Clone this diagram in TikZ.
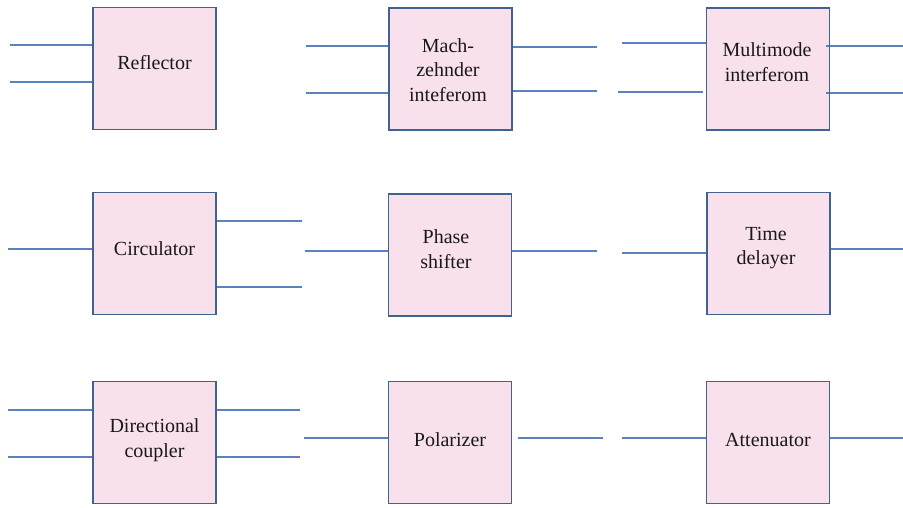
\documentclass[tikz,border=0pt]{standalone}
\usepackage{fontspec}
\setmainfont{Liberation Serif}
\definecolor{boxfill}{RGB}{248,225,236}
\definecolor{boxedge}{RGB}{65,98,143}
\definecolor{wirec}{RGB}{91,130,190}
\tikzset{
  blk/.style={draw=boxedge, fill=boxfill, line width=1.2pt, minimum width=123pt, minimum height=122pt, inner sep=0pt, outer sep=0pt},
  lbl/.style={font=\fontsize{20}{24.5}\selectfont, align=center, inner sep=0pt, text=black!90},
  wire/.style={draw=wirec, line width=1.3pt}
}
\begin{document}
\begin{tikzpicture}[x=1pt,y=-1pt]
\useasboundingbox (0,0) rectangle (903,508);
% boxes
\node[blk] (refl) at (154.5,68.5) {};
\node[blk] (mach) at (450.5,69) {};
\node[blk] (mmi)  at (768,69) {};
\node[blk] (circ) at (154.5,253.5) {};
\node[blk] (phase) at (450,255) {};
\node[blk] (time) at (768.5,253.5) {};
\node[blk] (dc) at (154.5,442.5) {};
\node[blk] (pol) at (450,442.5) {};
\node[blk] (att) at (768,442.5) {};
% labels
\node[lbl] (treflector) at (154.5,63) {Reflector};
\node[lbl] (tmach) at (448,70) {Mach-\\zehnder\\inteferom};
\node[lbl] (tmmi) at (767,62) {Multimode\\ interferom};
\node[lbl] (tcirc) at (154.5,248.5) {Circulator};
\node[lbl] (tphase) at (446,249) {Phase\\shifter};
\node[lbl] (ttime) at (766,248) {Time\\delayer};
\node[lbl] (tdc) at (154.5,440) {Directional\\coupler};
\node[lbl] (tpol) at (450,440) {Polarizer};
\node[lbl] (tatt) at (768,440) {Attenuator};
% free ends
\coordinate (a1) at (10,45);  \coordinate (a2) at (10,82);
\coordinate (b1) at (306,46); \coordinate (b2) at (306,93);
\coordinate (b3) at (597,47); \coordinate (b4) at (597,91);
\coordinate (c1) at (622,43); \coordinate (c2) at (618,92); \coordinate (c2e) at (703,92);
\coordinate (c3s) at (826,46); \coordinate (c3) at (903,46);
\coordinate (c4s) at (826,93); \coordinate (c4) at (903,93);
\coordinate (d1) at (8,249); \coordinate (d2) at (302,221); \coordinate (d3) at (302,287);
\coordinate (e1) at (305,251); \coordinate (e2) at (597,251);
\coordinate (f1) at (622,253); \coordinate (f2) at (903,249);
\coordinate (g1) at (8,410); \coordinate (g2) at (8,457);
\coordinate (g3) at (300,410); \coordinate (g4) at (300,457);
\coordinate (h1) at (304,438); \coordinate (h2s) at (518,438); \coordinate (h2) at (603,438);
\coordinate (k1) at (622,438); \coordinate (k2) at (903,438);
% wires
\draw[wire] (a1) -- (refl.west |- a1);
\draw[wire] (a2) -- (refl.west |- a2);
\draw[wire] (b1) -- (mach.west |- b1);
\draw[wire] (b2) -- (mach.west |- b2);
\draw[wire] (mach.east |- b3) -- (b3);
\draw[wire] (mach.east |- b4) -- (b4);
\draw[wire] (c1) -- (mmi.west |- c1);
\draw[wire] (c2) -- (c2e);
\draw[wire] (c3s) -- (c3);
\draw[wire] (c4s) -- (c4);
\draw[wire] (d1) -- (circ.west |- d1);
\draw[wire] (circ.east |- d2) -- (d2);
\draw[wire] (circ.east |- d3) -- (d3);
\draw[wire] (e1) -- (phase.west |- e1);
\draw[wire] (phase.east |- e2) -- (e2);
\draw[wire] (f1) -- (time.west |- f1);
\draw[wire] (time.east |- f2) -- (f2);
\draw[wire] (g1) -- (dc.west |- g1);
\draw[wire] (g2) -- (dc.west |- g2);
\draw[wire] (dc.east |- g3) -- (g3);
\draw[wire] (dc.east |- g4) -- (g4);
\draw[wire] (h1) -- (pol.west |- h1);
\draw[wire] (h2s) -- (h2);
\draw[wire] (k1) -- (att.west |- k1);
\draw[wire] (att.east |- k2) -- (k2);
% redraw box borders on top of wires
\foreach \n in {refl,mach,mmi,circ,phase,time,dc,pol,att}
  \draw[boxedge, line width=1.2pt] (\n.south west) rectangle (\n.north east);
\end{tikzpicture}
\end{document}
